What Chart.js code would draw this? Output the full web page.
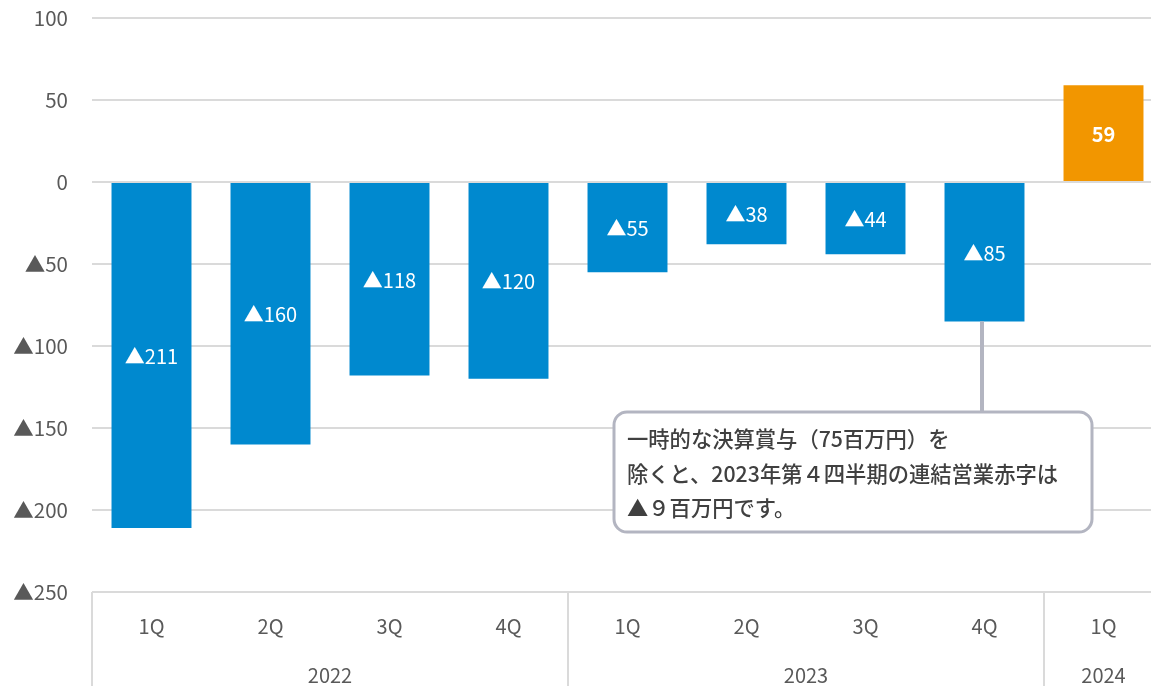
<!DOCTYPE html>
<html lang="ja">
<head>
<meta charset="utf-8">
<script src="https://cdn.jsdelivr.net/npm/chart.js@4/dist/chart.umd.min.js"></script>
<style>
  html, body { margin: 0; padding: 0; overflow: hidden; background: #fff; }
  #wrap { position: relative; width: 1163px; height: 686px; }
</style>
</head>
<body>
<div id="wrap"><canvas id="chart"></canvas></div>
<script>
// Quarterly consolidated operating income (millions of yen); negatives are losses.
const quarters = ["1Q", "2Q", "3Q", "4Q", "1Q", "2Q", "3Q", "4Q", "1Q"];
const years = ["2022", "2023", "2024"];
const yearSpans = [4, 4, 1];           // quarters per year group
const values = [-211, -160, -118, -120, -55, -38, -44, -85, 59];
const yTicks = [100, 50, 0, -50, -100, -150, -200, -250];
const noteLines = [
  "一時的な決算賞与（75百万円）を",
  "除くと、2023年第４四半期の連結営業赤字は",
  "▲９百万円です。",
];
const noteIndex = 7;                   // bar the note points at

const FONT = '"Noto Sans CJK JP", "Noto Sans", sans-serif';
const BLUE = "#0089cf";
const ORANGE = "#f29600";
const GRID = "#dadada";
const TEXT = "#595959";
const NOTE_BORDER = "#b3b5c1";

const fmtVal = (v) => (v < 0 ? "▲" + Math.abs(v) : String(v));

// Value labels centred inside each bar.
const barLabels = {
  id: "barLabels",
  afterDatasetsDraw(chart) {
    const c = chart.ctx;
    const meta = chart.getDatasetMeta(0);
    c.save();
    c.textAlign = "center";
    c.textBaseline = "middle";
    c.fillStyle = "#fff";
    meta.data.forEach((bar, i) => {
      const v = values[i];
      c.font = (v > 0 ? "bold " : "") + "20px " + FONT;
      c.fillText(fmtVal(v), bar.x, (bar.y + bar.base) / 2 + 1);
    });
    c.restore();
  },
};

// Two-level category axis: quarters, then years with group separators.
const groupAxis = {
  id: "groupAxis",
  afterDraw(chart) {
    const c = chart.ctx;
    const x = chart.scales.x;
    const { bottom } = chart.chartArea;
    const step = x.getPixelForValue(1) - x.getPixelForValue(0);
    c.save();
    c.font = "20px " + FONT;
    c.fillStyle = TEXT;
    c.textAlign = "center";
    c.textBaseline = "middle";
    quarters.forEach((q, i) => c.fillText(q, x.getPixelForValue(i), bottom + 34));

    c.strokeStyle = GRID;
    c.lineWidth = 2;
    let start = 0;
    years.forEach((yr, g) => {
      const end = start + yearSpans[g] - 1;
      const left = x.getPixelForValue(start) - step / 2;
      const right = x.getPixelForValue(end) + step / 2;
      c.fillText(yr, (left + right) / 2, bottom + 83);
      c.beginPath();
      c.moveTo(Math.round(left), bottom);
      c.lineTo(Math.round(left), chart.height);
      c.stroke();
      start = end + 1;
    });
    c.restore();
  },
};

// Rounded note box with a leader line up to the bar it refers to.
const noteBox = {
  id: "noteBox",
  afterDraw(chart) {
    const c = chart.ctx;
    const bar = chart.getDatasetMeta(0).data[noteIndex];
    const bx = 614, by = 412, bw = 478, bh = 120, r = 13;
    const lx = Math.round(bar.x) - 3;
    c.save();
    c.strokeStyle = NOTE_BORDER;
    c.lineWidth = 4;
    c.beginPath();
    c.moveTo(lx, bar.y);
    c.lineTo(lx, by);
    c.stroke();

    c.lineWidth = 3;
    c.fillStyle = "#fff";
    c.beginPath();
    c.roundRect(bx, by, bw, bh, r);
    c.fill();
    c.stroke();

    c.fillStyle = "#404040";
    c.font = "500 21.3px " + FONT;
    c.textAlign = "left";
    c.textBaseline = "middle";
    noteLines.forEach((t, i) => c.fillText(t, bx + 13, by + 27 + i * 34.5));
    c.restore();
  },
};

new Chart(document.getElementById("chart"), {
  type: "bar",
  plugins: [barLabels, groupAxis, noteBox],
  data: {
    labels: quarters,
    datasets: [{
      data: values,
      backgroundColor: values.map((v) => (v < 0 ? BLUE : ORANGE)),
      borderWidth: 0,
      barPercentage: 0.672,
      categoryPercentage: 1,
    }],
  },
  options: {
    responsive: true,
    maintainAspectRatio: false,
    animation: false,
    layout: { padding: { top: 18, right: 0, bottom: 0, left: 0 } },
    plugins: { legend: { display: false }, tooltip: { enabled: false } },
    scales: {
      x: {
        grid: { display: false },
        border: { display: false },
        ticks: { display: false },
        afterFit: (s) => { s.height = 94; },
      },
      y: {
        min: -250,
        max: 100,
        afterBuildTicks: (s) => { s.ticks = yTicks.map((v) => ({ value: v })); },
        afterFit: (s) => {
          s.width = 92;
          s.paddingTop = 0;
          s.paddingBottom = 0;
        },
        grid: { color: GRID, lineWidth: 2, drawTicks: false },
        border: { display: false },
        ticks: {
          padding: 24,
          color: TEXT,
          font: { family: FONT, size: 20.5 },
          callback: (v) => fmtVal(v),
        },
      },
    },
  },
});
</script>
</body>
</html>
